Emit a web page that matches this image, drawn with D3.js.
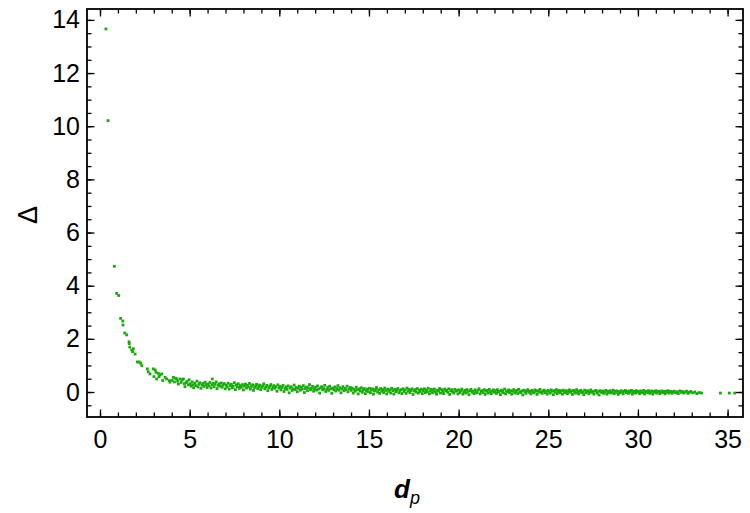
<!DOCTYPE html>
<html>
<head>
<meta charset="utf-8">
<script src="https://cdn.jsdelivr.net/npm/d3@7"></script>
<style>
  html, body { margin: 0; padding: 0; background: #fff; }
  svg { display: block; }
  .tick text { font-family: "Liberation Sans", Arial, sans-serif; font-size: 25px; fill: #000; }
  .tick line { stroke: #000; stroke-width: 1.3; }
</style>
</head>
<body>
<svg width="750" height="513"></svg>
<script>
// isolated points on the steep part of the curve (d_p, Delta)
var curvePoints = [
  [0.33,13.66],[0.45,10.21],[0.80,4.73],[0.93,3.71],[1.04,3.63],[1.15,2.77],[1.27,2.67],[1.28,2.52],
  [1.38,2.22],[1.49,2.15],[1.62,1.89],[1.63,1.82],[1.66,1.69],[1.77,1.58],[1.86,1.63],[1.82,1.52],
  [1.96,1.43],[2.08,1.13],[2.19,1.13],[2.27,1.08],[2.33,0.99],[2.64,0.87],[2.69,0.76],[2.79,0.68],
  [2.97,0.87],[3.08,0.83],[3.12,0.74],[3.25,0.70],[3.35,0.64],[3.44,0.68],[3.01,0.58],[3.29,0.58],
  [3.16,0.49],[3.50,0.43],[3.63,0.55],[3.72,0.49],[3.87,0.43],[3.90,0.37],[4.09,0.55],[4.28,0.49],
  [4.37,0.30],[4.46,0.49],[4.65,0.49],[4.74,0.20],[4.80,0.35],[6.26,0.49],
  [4.02,.44],[4.15,.38],[4.21,.52],[4.33,.41],[4.52,.36],[4.58,.45],[4.70,.31],[4.86,.40],[4.93,.27],[4.97,.46]
];

// dense band, 5 < d_p < 14
var bandNear = [
  [5.03,.31],[5.08,.22],[5.14,.38],[5.19,.27],[5.22,.16],[5.29,.33],[5.35,.24],[5.41,.41],[5.46,.19],[5.52,.29],
  [5.57,.35],[5.63,.14],[5.69,.26],[5.74,.32],[5.80,.21],[5.86,.37],[5.91,.28],[5.97,.17],
  [6.02,.30],[6.08,.23],[6.13,.36],[6.19,.15],[6.25,.27],[6.31,.33],[6.36,.20],[6.42,.29],[6.48,.38],[6.53,.13],
  [6.59,.25],[6.64,.31],[6.70,.22],[6.76,.34],[6.81,.18],[6.87,.27],[6.93,.32],[6.98,.12],
  [7.04,.26],[7.09,.19],[7.15,.33],[7.21,.11],[7.26,.24],[7.32,.29],[7.38,.16],[7.43,.22],[7.49,.35],[7.55,.09],
  [7.60,.27],[7.66,.20],[7.71,.31],[7.77,.14],[7.83,.24],[7.88,.18],[7.94,.28],
  [8.00,.08],[8.05,.22],[8.11,.30],[8.17,.15],[8.22,.25],[8.28,.19],[8.34,.32],[8.39,.11],[8.45,.21],[8.51,.27],
  [8.56,.06],[8.62,.17],[8.68,.24],[8.73,.29],[8.79,.13],[8.85,.20],[8.90,.26],[8.96,.09],
  [9.02,.18],[9.07,.23],[9.13,.31],[9.19,.12],[9.24,.19],[9.30,.25],[9.36,.05],[9.41,.16],[9.47,.22],[9.53,.28],
  [9.58,.10],[9.64,.18],[9.70,.24],[9.75,.14],[9.81,.20],[9.87,.03],[9.92,.27],[9.98,.15],
  [10.04,.21],[10.09,.08],[10.15,.17],[10.21,.25],[10.26,.02],[10.32,.13],[10.38,.19],[10.43,.10],[10.49,.23],
  [10.55,-.03],[10.60,.15],[10.66,.20],[10.72,.06],[10.77,.12],[10.83,.26],[10.89,.09],[10.94,.17],
  [11.00,.01],[11.06,.14],[11.11,.22],[11.17,.07],[11.23,.18],[11.28,.11],[11.34,.24],[11.40,-.02],[11.45,.13],
  [11.51,.19],[11.57,.05],[11.62,.16],[11.68,.28],[11.74,.09],[11.79,.14],[11.85,.21],[11.91,.03],[11.96,.12],
  [12.02,.18],[12.08,.07],[12.13,.23],[12.19,.11],[12.25,-.04],[12.30,.15],[12.36,.20],[12.42,.08],[12.47,.13],
  [12.53,.25],[12.59,.02],[12.64,.10],[12.70,.17],[12.76,.06],[12.81,.22],[12.87,.12],[12.93,-.05],[12.98,.15],
  [13.04,.09],[13.10,.19],[13.15,.04],[13.21,.13],[13.27,.24],[13.32,.07],[13.38,.16],[13.44,-.03],[13.49,.11],
  [13.55,.20],[13.61,.05],[13.66,.14],[13.72,.09],[13.78,.22],[13.83,.01],[13.89,.12],[13.95,.17]
];

// dense band, 14 < d_p < 20
var bandMid = [
  [14.01,.06],[14.06,.15],[14.12,-.04],[14.18,.10],[14.23,.03],[14.29,.18],[14.35,.08],[14.40,-.07],[14.46,.12],
  [14.52,.04],[14.57,.16],[14.63,-.01],[14.69,.09],[14.74,.13],[14.80,-.06],[14.86,.05],[14.91,.11],[14.97,.01],
  [15.03,.14],[15.08,-.03],[15.14,.07],[15.20,.12],[15.25,-.08],[15.31,.04],[15.37,.10],[15.42,.17],[15.48,.00],
  [15.54,.08],[15.59,-.05],[15.65,.13],[15.71,.03],[15.76,.09],[15.82,-.02],[15.88,.15],[15.93,.06],[15.99,-.07],
  [16.05,.11],[16.10,.02],[16.16,.08],[16.22,-.04],[16.27,.14],[16.33,.05],[16.39,-.08],[16.44,.10],[16.50,.01],
  [16.56,.07],[16.61,.13],[16.67,-.03],[16.73,.04],[16.78,.09],[16.84,-.06],[16.90,.12],[16.95,.02],
  [17.01,.08],[17.07,-.05],[17.12,.15],[17.18,.03],[17.24,.10],[17.29,-.02],[17.35,.06],[17.41,.12],[17.46,-.09],
  [17.52,.04],[17.58,.09],[17.63,.00],[17.69,.13],[17.75,-.04],[17.80,.07],[17.86,.02],[17.92,.11],[17.97,-.06],
  [18.03,.05],[18.09,.12],[18.14,-.02],[18.20,.08],[18.26,.01],[18.31,.14],[18.37,-.07],[18.43,.04],[18.48,.10],
  [18.54,-.03],[18.60,.06],[18.65,.11],[18.71,.00],[18.77,-.08],[18.82,.07],[18.88,.03],[18.94,.13],[18.99,-.04],
  [19.05,.09],[19.11,.02],[19.16,-.06],[19.22,.11],[19.28,.04],[19.33,.07],[19.39,-.01],[19.45,.12],[19.50,-.09],
  [19.56,.05],[19.62,.09],[19.67,.00],[19.73,-.04],[19.79,.10],[19.84,.03],[19.90,.06],[19.96,-.07]
];

// dense band, 20 < d_p < 28
var bandFar = [
  [20.01,.08],[20.07,-.02],[20.12,.04],[20.18,.11],[20.24,-.08],[20.29,.01],[20.35,.06],[20.41,-.04],[20.46,.09],
  [20.52,.02],[20.58,-.10],[20.63,.05],[20.69,.10],[20.75,-.01],[20.80,.03],[20.86,-.06],[20.92,.08],[20.97,.00],
  [21.03,-.03],[21.09,.07],[21.14,.12],[21.20,-.07],[21.26,.02],[21.31,.05],[21.37,-.02],[21.43,.09],[21.48,-.09],
  [21.54,.03],[21.60,.06],[21.65,-.04],[21.71,.10],[21.77,.01],[21.82,-.06],[21.88,.04],[21.94,.08],[21.99,-.01],
  [22.05,.05],[22.11,-.05],[22.16,.09],[22.22,.00],[22.28,.03],[22.33,-.10],[22.39,.07],[22.45,.02],[22.50,-.03],
  [22.56,.11],[22.62,-.07],[22.67,.04],[22.73,.01],[22.79,.08],[22.84,-.02],[22.90,.05],[22.96,-.08],
  [23.01,.03],[23.07,.09],[23.13,-.04],[23.18,.01],[23.24,.06],[23.30,-.06],[23.35,.10],[23.41,.00],[23.47,-.02],
  [23.52,.04],[23.58,-.11],[23.64,.07],[23.69,.02],[23.75,-.05],[23.81,.05],[23.86,.09],[23.92,-.01],[23.98,.03],
  [24.03,-.07],[24.09,.06],[24.15,.01],[24.20,-.03],[24.26,.08],[24.32,.03],[24.37,-.09],[24.43,.05],[24.49,-.01],
  [24.54,.10],[24.60,.00],[24.66,-.05],[24.71,.04],[24.77,.07],[24.83,-.02],[24.88,.02],[24.94,-.08],[24.99,.06],
  [25.05,.01],[25.11,-.04],[25.16,.08],[25.22,.03],[25.28,-.10],[25.33,.05],[25.39,-.01],[25.45,.09],[25.50,-.06],
  [25.56,.02],[25.62,.06],[25.67,-.03],[25.73,.04],[25.79,-.08],[25.84,.07],[25.90,.00],[25.96,-.02],
  [26.01,.05],[26.07,-.06],[26.13,.02],[26.18,.08],[26.24,-.01],[26.30,.04],[26.35,-.09],[26.41,.06],[26.47,.00],
  [26.52,-.04],[26.58,.09],[26.64,.02],[26.69,-.07],[26.75,.03],[26.81,.06],[26.86,-.02],[26.92,.01],[26.98,-.10],
  [27.03,.07],[27.09,-.03],[27.15,.03],[27.20,.05],[27.26,-.06],[27.32,.00],[27.37,.08],[27.43,-.01],[27.49,.02],
  [27.54,-.08],[27.60,.04],[27.66,.06],[27.71,-.04],[27.77,.01],[27.83,-.11],[27.88,.05],[27.94,.02],[27.99,-.02]
];

// thinning tail of the band and the last few stragglers
var bandTail = [
  [28.05,.04],[28.11,-.05],[28.16,.01],[28.22,.06],[28.28,-.08],[28.33,.02],[28.39,-.02],[28.45,.05],[28.50,-.04],
  [28.56,.00],[28.62,.07],[28.67,-.06],[28.73,.03],[28.79,-.01],[28.84,.04],[28.90,-.09],[28.96,.01],
  [29.01,-.03],[29.07,.05],[29.13,.00],[29.18,-.07],[29.24,.03],[29.30,.06],[29.35,-.02],[29.41,.02],[29.47,-.05],
  [29.52,.04],[29.58,-.01],[29.64,.06],[29.69,-.08],[29.75,.01],[29.81,.03],[29.86,-.04],[29.92,.05],[29.98,-.01],
  [30.03,.02],[30.09,-.06],[30.15,.04],[30.20,.00],[30.26,-.03],[30.32,.06],[30.37,-.07],[30.43,.01],[30.49,.03],
  [30.54,-.02],[30.60,.05],[30.66,-.05],[30.71,.00],[30.77,.04],[30.83,-.08],[30.88,.02],[30.94,-.01],
  [31.00,.05],[31.05,-.04],[31.11,.01],[31.17,.03],[31.22,-.06],[31.28,.00],[31.34,.04],[31.39,-.02],[31.45,.02],
  [31.51,-.07],[31.56,.03],[31.62,-.01],[31.68,.05],[31.73,-.04],[31.79,.01],[31.85,.02],[31.90,-.05],[31.96,.00],
  [32.02,.03],[32.10,-.03],[32.18,.01],[32.25,-.06],[32.33,.04],[32.41,-.01],[32.48,.02],[32.56,-.04],[32.64,.00],
  [32.71,.03],[32.79,-.05],[32.87,-.01],[32.95,.02],[33.06,-.03],[33.18,.00],[33.29,-.06],[33.42,-.02],[33.55,-.04],
  [34.6,-.04],[35.1,-.04],[35.4,-.04]
];

var xTicks = [0, 5, 10, 15, 20, 25, 30, 35];
var yTicks = [0, 2, 4, 6, 8, 10, 12, 14];

var allPoints = curvePoints.concat(bandNear, bandMid, bandFar, bandTail);

var svg = d3.select('svg');
// frame edges in pixels (plain "top" clashes with window.top)
var frameL = 87, frameR = 743, frameT = 9, frameB = 417;

// axis ranges
var x = d3.scaleLinear().domain([-0.725, 35.86]).range([frameL, frameR]);
var y = d3.scaleLinear().domain([-0.94, 14.41]).range([frameB, frameT]);

var xMinor = d3.range(0, 36, 1);
var yMinor = d3.range(-0.5, 14.5, 0.5);

function tidy(g) {
  g.select('.domain').remove();
}

// minor ticks, all four sides, pointing inward
svg.append('g').attr('transform', 'translate(0,' + frameB + ')')
  .call(d3.axisBottom(x).tickValues(xMinor).tickSize(-4.5).tickFormat('')).call(tidy);
svg.append('g').attr('transform', 'translate(0,' + frameT + ')')
  .call(d3.axisTop(x).tickValues(xMinor).tickSize(-4.5).tickFormat('')).call(tidy);
svg.append('g').attr('transform', 'translate(' + frameL + ',0)')
  .call(d3.axisLeft(y).tickValues(yMinor).tickSize(-4.5).tickFormat('')).call(tidy);
svg.append('g').attr('transform', 'translate(' + frameR + ',0)')
  .call(d3.axisRight(y).tickValues(yMinor).tickSize(-4.5).tickFormat('')).call(tidy);

// major ticks
svg.append('g').attr('transform', 'translate(0,' + frameB + ')')
  .call(d3.axisBottom(x).tickValues(xTicks).tickSize(-7.5).tickPadding(13)).call(tidy);
svg.append('g').attr('transform', 'translate(0,' + frameT + ')')
  .call(d3.axisTop(x).tickValues(xTicks).tickSize(-7.5).tickFormat('')).call(tidy);
svg.append('g').attr('transform', 'translate(' + frameL + ',0)')
  .call(d3.axisLeft(y).tickValues(yTicks).tickSize(-7.5).tickPadding(7)).call(tidy);
svg.append('g').attr('transform', 'translate(' + frameR + ',0)')
  .call(d3.axisRight(y).tickValues(yTicks).tickSize(-7.5).tickFormat('')).call(tidy);

// points
svg.append('g').selectAll('rect')
  .data(allPoints)
  .enter()
  .append('rect')
  .attr('x', function(d) { return x(d[0]) - 1.4; })
  .attr('y', function(d) { return y(d[1]) - 1.4; })
  .attr('width', 2.8)
  .attr('height', 2.8)
  .style('fill', '#1aaa0e');

// frame
svg.append('rect')
  .attr('x', frameL).attr('y', frameT)
  .attr('width', frameR - frameL).attr('height', frameB - frameT)
  .style('fill', 'none').style('stroke', '#000').style('stroke-width', 1.8);

// axis titles
var xt = svg.append('text')
  .attr('x', 407).attr('y', 498)
  .attr('text-anchor', 'middle')
  .style('font-family', 'Liberation Sans, Arial, sans-serif')
  .style('font-size', '26px');
xt.append('tspan').text('d').style('font-weight', 'bold').style('font-style', 'italic');
xt.append('tspan').text('p').attr('dy', 6).style('font-size', '18px').style('font-style', 'italic');

svg.append('text')
  .attr('transform', 'translate(37,215) rotate(-90)')
  .attr('text-anchor', 'middle')
  .style('font-family', 'Liberation Sans, Arial, sans-serif')
  .style('font-size', '27px')
  .text('Δ');
</script>
</body>
</html>
